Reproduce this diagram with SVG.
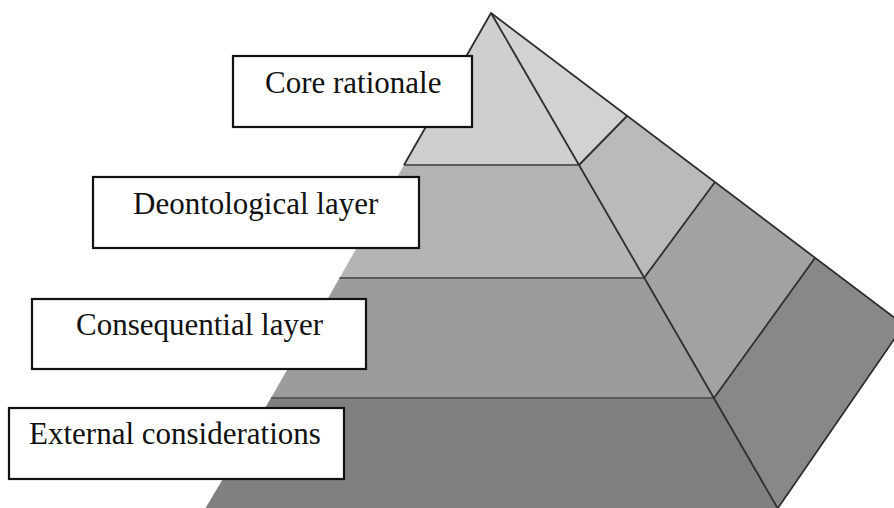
<svg xmlns="http://www.w3.org/2000/svg" width="894" height="508" viewBox="0 0 894 508">
  <style>
    .face { stroke: none; }
    .edge { fill: none; stroke: #2e2e2e; stroke-width: 1.8; stroke-linejoin: round; }
    .tier { fill: none; stroke: #5a5a5a; stroke-width: 2; }
    .box { fill: #ffffff; stroke: #111111; stroke-width: 2.2; }
    .label { font-family: "Liberation Serif", "Times New Roman", serif; font-size: 31px; fill: #111111; }
  </style>

  <rect width="894" height="508" fill="#ffffff"/>

  <!-- Pyramid: front face tiers -->
  <g id="pyramid-front">
    <polygon class="face" fill="#cfcfcf" points="491,13 404,165 579,165"/>
    <polygon class="face" fill="#b4b4b4" points="404,165 579,165 644,278 339.5,278"/>
    <polygon class="face" fill="#9c9c9c" points="339.5,278 644,278 714,398 271,398"/>
    <polygon class="face" fill="#808080" points="271,398 714,398 781,514 202,514"/>
    <line class="tier" x1="404" y1="165" x2="579" y2="165"/>
    <line class="tier" x1="339.5" y1="278" x2="644" y2="278"/>
    <line class="tier" x1="271" y1="398" x2="714" y2="398"/>
  </g>

  <!-- Pyramid: right side face tiers -->
  <g id="pyramid-side">
    <polygon class="face" fill="#d2d2d2" points="491,13 627,116 579,165"/>
    <polygon class="face" fill="#bababa" points="579,165 627,116 715,182 644,278"/>
    <polygon class="face" fill="#a2a2a2" points="644,278 715,182 815,258 714,398"/>
    <polygon class="face" fill="#888888" points="714,398 815,258 904,325 778,508"/>
  </g>

  <!-- Pyramid outlines -->
  <g id="pyramid-edges">
    <polyline class="edge" points="404,165 491,13 904,325 778,508"/>
    <line class="edge" x1="491" y1="13" x2="781" y2="514"/>
    <line class="edge" x1="579" y1="165" x2="627" y2="116"/>
    <line class="edge" x1="644" y1="278" x2="715" y2="182"/>
    <line class="edge" x1="714" y1="398" x2="815" y2="258"/>
  </g>

  <!-- Tier labels -->
  <g id="label-core">
    <rect class="box" x="233" y="56" width="239" height="71"/>
    <text class="label" x="265" y="92.5">Core rationale</text>
  </g>
  <g id="label-deontological">
    <rect class="box" x="93" y="177" width="326" height="71"/>
    <text class="label" x="133" y="214">Deontological layer</text>
  </g>
  <g id="label-consequential">
    <rect class="box" x="32" y="299" width="334" height="70"/>
    <text class="label" x="76" y="335">Consequential layer</text>
  </g>
  <g id="label-external">
    <rect class="box" x="9" y="408" width="335" height="71"/>
    <text class="label" x="29" y="444">External considerations</text>
  </g>

  <g id="connectors"></g>
</svg>
